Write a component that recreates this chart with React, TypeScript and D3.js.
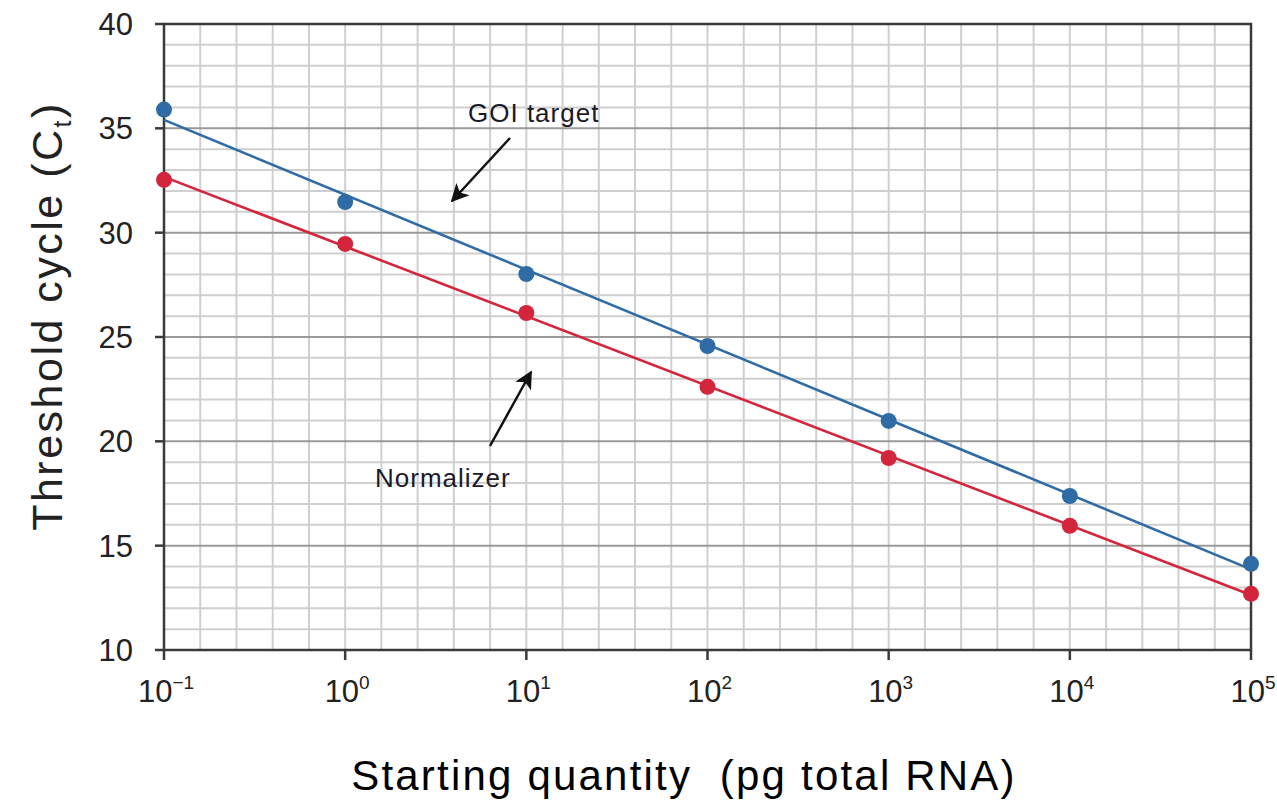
import React from "react";
import * as d3 from "d3";

const exponents = [-1, 0, 1, 2, 3, 4, 5];
const quantities = exponents.map((e) => Math.pow(10, e));
const goiCt = [35.9, 31.47, 28.02, 24.57, 20.98, 17.38, 14.13];
const normalizerCt = [32.53, 29.46, 26.15, 22.61, 19.2, 15.95, 12.69];
const yTicks = [10, 15, 20, 25, 30, 35, 40];
const superscripts = ["−1", "0", "1", "2", "3", "4", "5"];

const W = 1277;
const H = 805;
const M = { left: 164, right: 1251, top: 24, bottom: 650 };
const BLUE = "#2f6ca6";
const RED = "#d3253b";
const FONT = "'Liberation Sans', Arial, Helvetica, sans-serif";

function fit(xs: number[], ys: number[]) {
  const lx = xs.map((v) => Math.log10(v));
  const mx = d3.mean(lx)!;
  const my = d3.mean(ys)!;
  let num = 0,
    den = 0;
  lx.forEach((v, i) => {
    num += (v - mx) * (ys[i] - my);
    den += (v - mx) * (v - mx);
  });
  const b = num / den;
  const a = my - b * mx;
  return (q: number) => a + b * Math.log10(q);
}

export default function App() {
  const x = d3.scaleLog().domain([0.1, 1e5]).range([M.left, M.right]);
  const y = d3.scaleLinear().domain([10, 40]).range([M.bottom, M.top]);

  const vGrid = d3.range(0, 31).map((k) => Math.pow(10, -1 + k * 0.2));
  const hGrid = d3.range(10, 41, 1);

  const series = [
    { vals: goiCt, color: BLUE },
    { vals: normalizerCt, color: RED },
  ];

  return (
    <svg
      width={W}
      height={H}
      style={{ position: "absolute", left: 0, top: 0, background: "#fff" }}
    >
      <defs>
        <marker
          id="ah2"
          viewBox="0 0 10 10"
          refX="9"
          refY="5"
          markerWidth="20"
          markerHeight="18"
          orient="auto"
          markerUnits="userSpaceOnUse"
        >
          <path d="M0,0 L10,5 L0,10 L2.5,5 Z" fill="#111" />
        </marker>
      </defs>
      {vGrid.map((v, i) => (
        <line
          key={"v" + i}
          x1={x(v)}
          x2={x(v)}
          y1={M.top}
          y2={M.bottom}
          stroke="#cfcfcf"
          strokeWidth={2}
        />
      ))}
      {hGrid.map((v) => (
        <line
          key={"h" + v}
          x1={M.left}
          x2={M.right}
          y1={y(v)}
          y2={y(v)}
          stroke={v % 5 === 0 ? "#9a9a9a" : "#cfcfcf"}
          strokeWidth={2}
        />
      ))}
      <rect
        x={M.left}
        y={M.top}
        width={M.right - M.left}
        height={M.bottom - M.top}
        fill="none"
        stroke="#3a3a3a"
        strokeWidth={2.5}
      />
      {yTicks.map((t) => (
        <g key={"yt" + t}>
          <line
            x1={M.left - 9}
            x2={M.left}
            y1={y(t)}
            y2={y(t)}
            stroke="#3a3a3a"
            strokeWidth={2.5}
          />
          <text
            x={133}
            y={y(t) + 11}
            textAnchor="end"
            fontFamily={FONT}
            fontSize={31}
            fill="#222"
          >
            {t}
          </text>
        </g>
      ))}
      {quantities.map((q, i) => (
        <g key={"xt" + i}>
          <line
            x1={x(q)}
            x2={x(q)}
            y1={M.bottom}
            y2={M.bottom + 10}
            stroke="#3a3a3a"
            strokeWidth={2.5}
          />
          <text
            x={x(q) + 2}
            y={702}
            textAnchor="middle"
            fontFamily={FONT}
            fontSize={31}
            fill="#222"
          >
            10
            <tspan fontSize={19} dy={-13}>
              {superscripts[i]}
            </tspan>
          </text>
        </g>
      ))}
      {series.map((s, si) => {
        const f = fit(quantities, s.vals);
        const ends = [0.1, 1e5];
        return (
          <g key={"s" + si}>
            <path
              d={
                d3
                  .line<number>()
                  .x((d) => x(d))
                  .y((d) => y(f(d)))(ends) || ""
              }
              fill="none"
              stroke={s.color}
              strokeWidth={2.6}
            />
            {quantities.map((q, i) => (
              <circle
                key={i}
                cx={x(q)}
                cy={y(s.vals[i])}
                r={8}
                fill={s.color}
              />
            ))}
          </g>
        );
      })}
      <text
        x={468}
        y={122}
        fontFamily={FONT}
        fontSize={26}
        letterSpacing={1}
        fill="#1a1a2a"
      >
        GOI target
      </text>
      <line
        x1={510}
        y1={138}
        x2={452}
        y2={201}
        stroke="#111"
        strokeWidth={2.5}
        markerEnd="url(#ah2)"
      />
      <text
        x={375}
        y={487}
        fontFamily={FONT}
        fontSize={26}
        letterSpacing={1}
        fill="#1a1a2a"
      >
        Normalizer
      </text>
      <line
        x1={490}
        y1={446}
        x2={531}
        y2={372}
        stroke="#111"
        strokeWidth={2.5}
        markerEnd="url(#ah2)"
      />
      <text
        x={684}
        y={790}
        textAnchor="middle"
        fontFamily={FONT}
        fontSize={42}
        letterSpacing={2.2}
        fill="#000"
        style={{ whiteSpace: "pre" }}
      >
        {"Starting quantity  (pg total RNA)"}
      </text>
      <text
        transform={`translate(62,${316}) rotate(-90)`}
        textAnchor="middle"
        fontFamily={FONT}
        fontSize={43}
        letterSpacing={2.5}
        fill="#222"
      >
        Threshold cycle (C
        <tspan fontSize={25} dy={9}>
          t
        </tspan>
        <tspan dy={-9}>)</tspan>
      </text>
    </svg>
  );
}
